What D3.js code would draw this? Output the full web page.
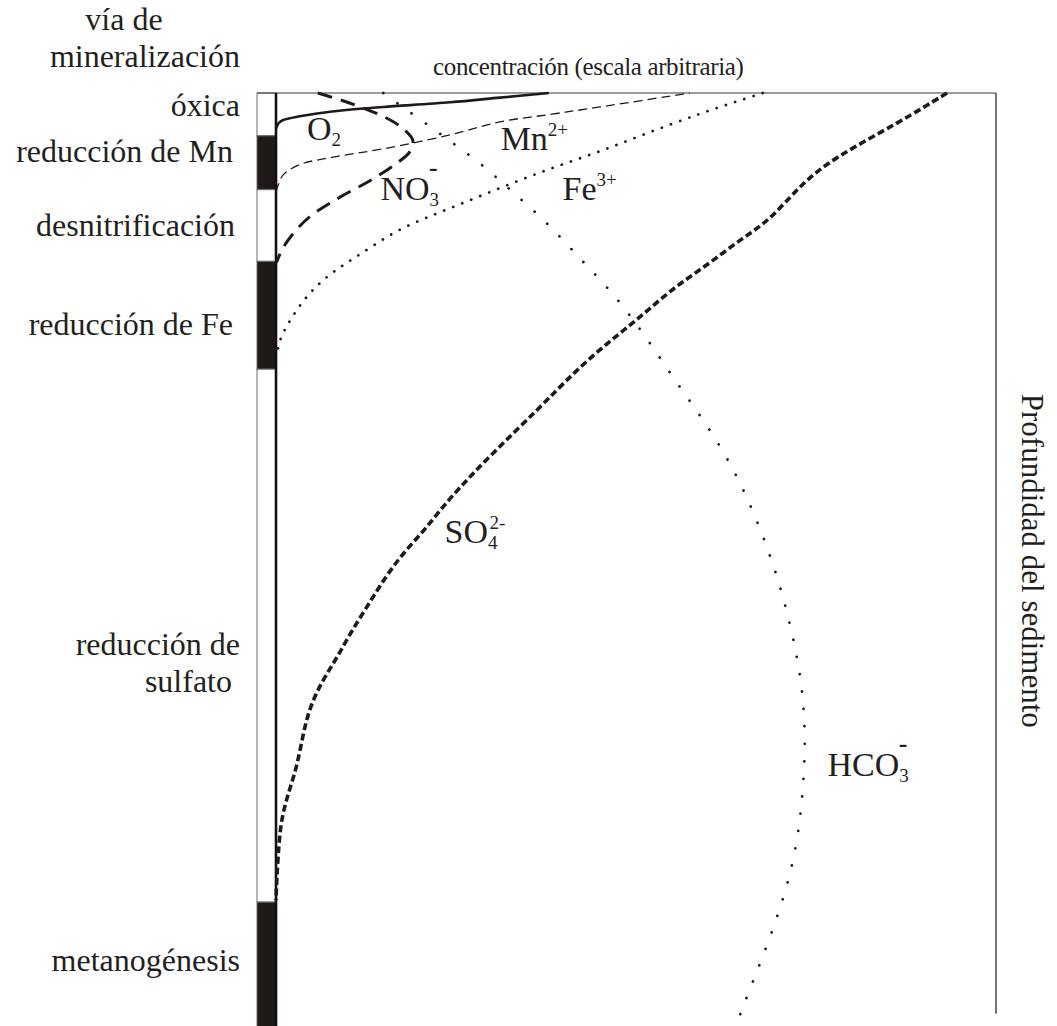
<!DOCTYPE html>
<html>
<head>
<meta charset="utf-8">
<script src="https://cdn.jsdelivr.net/npm/d3@7"></script>
<style>
  body { margin: 0; background: #fff; }
  text { font-family: "Liberation Serif", "Times New Roman", serif; fill: #231f20; }
</style>
</head>
<body>
<div id="chart"></div>
<script>
var width  = 1057;
var height = 1026;

// zonas de mineralización (profundidad en escala 0-100)
var zoneNames  = ["óxica", "reducción de Mn", "desnitrificación", "reducción de Fe", "reducción de\nsulfato", "metanogénesis"];
var zoneTops   = [0, 4.6, 10.4, 18.1, 29.7, 87.0];
var zoneBottoms = [4.6, 10.4, 18.1, 29.7, 87.0, 101];

// perfiles: concentración (escala arbitraria) vs profundidad
var o2Conc    = [0, 0.4, 1.0, 3.3, 5.7, 10.1, 14.9, 24.2, 31.1, 37.9];
var o2Depth   = [3.8, 3.2, 2.9, 2.5, 2.2, 1.8, 1.5, 1.0, 0.5, 0];

var mnConc    = [0, 0.3, 1.0, 3.3, 7.9, 14.9, 24.2, 31.1, 38.1, 45.0, 57.5];
var mnDepth   = [10.6, 9.9, 8.8, 7.7, 6.9, 6.0, 4.5, 3.1, 2.3, 1.5, 0];

var no3Conc   = [5.8, 10.3, 15.1, 17.6, 19.0, 18.6, 16.5, 13.1, 8.9, 4.7, 2.2, 0.8, 0.1];
var no3Depth  = [0, 1.1, 2.6, 3.8, 5.1, 6.3, 7.7, 9.4, 11.2, 13.3, 15.3, 16.9, 18.2];

var feConc    = [67.6, 64.4, 58.9, 51.9, 45.0, 38.1, 31.1, 24.2, 17.2, 12.6, 9.7, 7.1, 4.6, 2.6, 1.0, 0.4, 0.1];
var feDepth   = [0, 0.8, 2.2, 4.2, 6.3, 8.1, 10.2, 12.4, 14.5, 16.9, 18.3, 19.7, 21.5, 23.6, 25.7, 26.9, 28.2];

var hco3Conc  = [14.9, 17.2, 21.4, 25.3, 29.3, 32.9, 36.5, 40.0, 43.3, 46.8, 51.3, 55.4, 59.7, 63.6, 66.7, 69.3,
                 71.3, 72.8, 73.3, 73.5, 73.3, 72.9, 72.2, 71.1, 69.6, 67.9, 66.1, 64.3];
var hco3Depth = [0, 1.3, 3.6, 5.8, 8.1, 10.7, 13.1, 15.9, 18.7, 21.5, 26.1, 30.9, 35.5, 40.4, 45.7, 51.1,
                 56.6, 62.3, 66.0, 69.8, 73.7, 77.4, 81.2, 85.0, 88.6, 92.3, 95.8, 99.4];

var so4Conc   = [93.2, 86.7, 77.4, 72.8, 68.6, 64.4, 59.9, 55.1, 50.6, 46.0, 41.3, 36.7, 30.1, 23.8, 21.0, 17.6,
                 14.9, 12.6, 10.3, 8.5, 6.5, 4.7, 3.8, 2.9, 1.7, 0.8, 0.4, 0.1, 0];
var so4Depth  = [0, 3.1, 7.0, 9.9, 13.7, 15.8, 18.5, 21.0, 24.1, 26.9, 30.1, 33.8, 38.7, 43.8, 46.7, 49.5,
                 52.4, 55.3, 58.1, 60.7, 63.1, 66.0, 68.8, 72.5, 75.3, 77.9, 80.6, 84.6, 86.8];

var margin = {top: 93, left: 276, right: 62, bottom: 3};

var x = d3.scaleLinear().domain([0, 100]).range([margin.left, 996]);
var y = d3.scaleLinear().domain([0, 100]).range([margin.top, 1023]);

var svg = d3.select('#chart')
  .append('svg')
  .attr('width', width)
  .attr('height', height);

// columna de zonas
var colX0 = 257;
svg.selectAll('rect.zone')
  .data(zoneTops)
  .enter()
  .append('rect')
  .attr('class', 'zone')
  .attr('x', colX0)
  .attr('width', x(0) - colX0)
  .attr('y', function(d) { return y(d); })
  .attr('height', function(d, i) { return y(zoneBottoms[i]) - y(d); })
  .style('fill', function(d, i) { return i % 2 ? '#1f1a17' : '#fff'; })
  .style('stroke', '#6d6d6d')
  .style('stroke-width', 1);

// marco
svg.append('line')
  .attr('x1', colX0).attr('x2', x(100))
  .attr('y1', y(0)).attr('y2', y(0))
  .style('stroke', '#3a3a3a').style('stroke-width', 1.2);
svg.append('line')
  .attr('x1', x(100)).attr('x2', x(100))
  .attr('y1', y(0)).attr('y2', y(99))
  .style('stroke', '#3a3a3a').style('stroke-width', 1.4);
svg.append('line')
  .attr('x1', x(0)).attr('x2', x(0))
  .attr('y1', y(0)).attr('y2', y(101))
  .style('stroke', '#111').style('stroke-width', 2.6);

var line = d3.line()
  .x(function(d) { return x(d[0]); })
  .y(function(d) { return y(d[1]); });

var profiles = [
  {c: o2Conc,   d: o2Depth,   w: 2.6, dash: null,        cap: 'butt',  curve: d3.curveCatmullRom},
  {c: mnConc,   d: mnDepth,   w: 1.3, dash: '9,5',       cap: 'butt',  curve: d3.curveCatmullRom},
  {c: no3Conc,  d: no3Depth,  w: 3,   dash: '15,9',      cap: 'butt',  curve: d3.curveCatmullRom},
  {c: feConc,   d: feDepth,   w: 2.7, dash: '0.1,9.6',   cap: 'round', curve: d3.curveBasis},
  {c: hco3Conc, d: hco3Depth, w: 2.7, dash: '0.1,17.4',  cap: 'round', curve: d3.curveBasis},
  {c: so4Conc,  d: so4Depth,  w: 3.6, dash: '7,3.5',     cap: 'butt',  curve: d3.curveBasis}
];

svg.selectAll('path.profile')
  .data(profiles)
  .enter()
  .append('path')
  .attr('class', 'profile')
  .attr('d', function(p) { return line.curve(p.curve)(d3.zip(p.c, p.d)); })
  .style('fill', 'none')
  .style('stroke', '#1f1a17')
  .style('stroke-width', function(p) { return p.w; })
  .style('stroke-dasharray', function(p) { return p.dash; })
  .style('stroke-linecap', function(p) { return p.cap; });

// etiquetas de las zonas
var zoneLabelDepth = [1.3, 6.2, 14.2, 24.8, 59.2, 93.2];
var zoneLabelX     = [240, 233, 235, 233, 240, 240];
svg.selectAll('text.zone')
  .data(zoneNames)
  .enter()
  .append('text')
  .attr('class', 'zone')
  .attr('text-anchor', 'end')
  .style('font-size', '32px')
  .each(function(d, i) {
    var lines = d.split('\n');
    var t = d3.select(this);
    lines.forEach(function(s, k) {
      t.append('tspan')
        .attr('x', zoneLabelX[i] - (k ? 8 : 0))
        .attr('y', y(zoneLabelDepth[i]) + 11 + k * 37)
        .text(s);
    });
  });

svg.append('text')
  .attr('x', 124).attr('y', 30)
  .attr('text-anchor', 'middle')
  .style('font-size', '32px')
  .text('vía de');
svg.append('text')
  .attr('x', 240).attr('y', 67)
  .attr('text-anchor', 'end')
  .style('font-size', '32px')
  .text('mineralización');

svg.append('text')
  .attr('x', 433).attr('y', 75)
  .style('font-size', '25px')
  .style('letter-spacing', '-0.35px')
  .text('concentración (escala arbitraria)');

svg.append('text')
  .attr('transform', 'translate(1022,' + y(50.3) + ')rotate(90)')
  .attr('text-anchor', 'middle')
  .style('font-size', '31px')
  .text('Profundidad del sedimento');

// etiquetas de especies químicas
var species = [
  {base: 'O',   sub: '2', sup: '',   c: 4.3,  d: 5.0},
  {base: 'Mn',  sub: '',  sup: '2+', c: 31.2, d: 6.1},
  {base: 'NO',  sub: '3', sup: '-',  c: 14.5, d: 11.5},
  {base: 'Fe',  sub: '',  sup: '3+', c: 39.8, d: 11.5},
  {base: 'SO',  sub: '4', sup: '2-', c: 23.4, d: 48.4},
  {base: 'HCO', sub: '3', sup: '-',  c: 76.6, d: 73.4}
];

species.forEach(function(s) {
  var t = svg.append('text')
    .attr('x', x(s.c))
    .attr('y', y(s.d))
    .style('font-size', '34px');
  t.append('tspan').text(s.base);
  if (s.sub) {
    t.append('tspan').attr('dy', 6).style('font-size', '19px').text(s.sub);
  }
  if (s.sup == '-') {
    t.append('tspan')
      .attr('dx', s.sub ? -10 : 0)
      .attr('dy', s.sub ? -30 : -20)
      .style('font-size', '26px').style('font-weight', 'bold')
      .text('-');
  } else if (s.sup) {
    t.append('tspan')
      .attr('dx', s.sub ? -8 : 0)
      .attr('dy', s.sub ? -20 : -14)
      .style('font-size', '19px')
      .text(s.sup);
  }
});
</script>
</body>
</html>
